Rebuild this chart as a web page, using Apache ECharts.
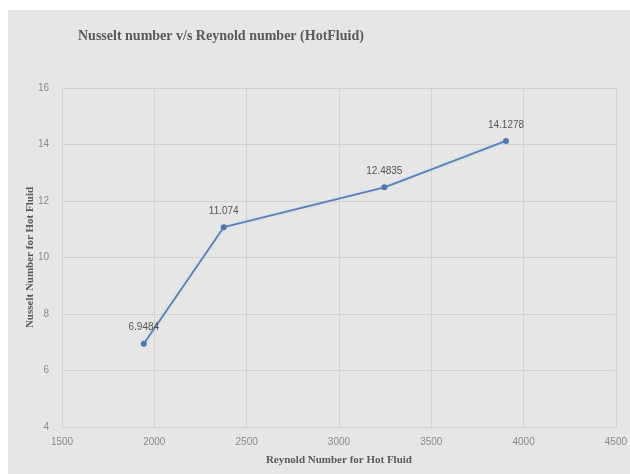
<!DOCTYPE html>
<html>
<head>
<meta charset="utf-8">
<script src="https://cdn.jsdelivr.net/npm/echarts@6/dist/echarts.min.js"></script>
<style>
  html, body { margin: 0; padding: 0; background: #ffffff; }
  #chart { width: 630px; height: 474px; }
</style>
</head>
<body>
<div id="chart"></div>
<script>
// Reynold number (x) against Nusselt number (y) for the hot fluid
const reynolds = [1943, 2376, 3246, 3905];
const nusselt = [6.9484, 11.074, 12.4835, 14.1278];

const xTicks = { min: 1500, max: 4500, step: 500 };
const yTicks = { min: 4, max: 16, step: 2 };

const points = reynolds.map((r, i) => [r, nusselt[i]]);

const chart = echarts.init(document.getElementById('chart'), null, { renderer: 'canvas' });

const serifBold = {
  fontFamily: '"Liberation Serif", "DejaVu Serif", serif',
  fontWeight: 'bold',
  color: '#5a5a5a'
};

chart.setOption({
  animation: false,
  backgroundColor: '#ffffff',
  graphic: [{
    type: 'rect',
    z: -10,
    shape: { x: 8, y: 10, width: 622, height: 464 },
    style: { fill: '#e6e6e6' }
  }],
  title: {
    text: 'Nusselt number v/s Reynold number (HotFluid)',
    left: 73,
    top: 24,
    textStyle: Object.assign({ fontSize: 14 }, serifBold)
  },
  grid: { left: 62, right: 12, top: 88, bottom: 47, containLabel: false },
  xAxis: {
    type: 'value',
    min: xTicks.min,
    max: xTicks.max,
    interval: xTicks.step,
    name: 'Reynold Number for Hot Fluid',
    nameLocation: 'middle',
    nameGap: 28,
    nameTextStyle: Object.assign({ fontSize: 11 }, serifBold),
    axisLine: { show: true, lineStyle: { color: '#cfcfcf', width: 1 } },
    axisTick: { show: false },
    axisLabel: {
      color: '#8a8a8a', fontSize: 10, margin: 10,
      fontFamily: '"Liberation Sans", Arial, sans-serif',
      formatter: v => String(v)
    },
    splitLine: { show: true, lineStyle: { color: '#d2d2d2', width: 1 } }
  },
  yAxis: {
    type: 'value',
    min: yTicks.min,
    max: yTicks.max,
    interval: yTicks.step,
    name: 'Nusselt Number for Hot Fluid',
    nameLocation: 'middle',
    nameRotate: 90,
    nameGap: 26,
    nameMoveOverlap: false,
    nameTextStyle: Object.assign({ fontSize: 11 }, serifBold),
    axisLine: { show: true, lineStyle: { color: '#d2d2d2', width: 1 } },
    axisTick: { show: false },
    axisLabel: { color: '#8a8a8a', fontSize: 10, margin: 13, fontFamily: '"Liberation Sans", Arial, sans-serif' },
    splitLine: { show: true, lineStyle: { color: '#d2d2d2', width: 1 } }
  },
  series: [{
    type: 'line',
    data: points,
    symbol: 'circle',
    symbolSize: 6,
    itemStyle: { color: '#5076ab' },
    lineStyle: {
      color: '#5a7fb1',
      width: 1.8,
      shadowColor: 'rgba(200,220,245,0.9)',
      shadowBlur: 3
    },
    label: {
      show: true,
      position: 'top',
      distance: 8,
      color: '#555555',
      fontSize: 10,
      fontFamily: '"Liberation Sans", Arial, sans-serif',
      formatter: p => String(p.value[1])
    }
  }]
});
</script>
</body>
</html>
